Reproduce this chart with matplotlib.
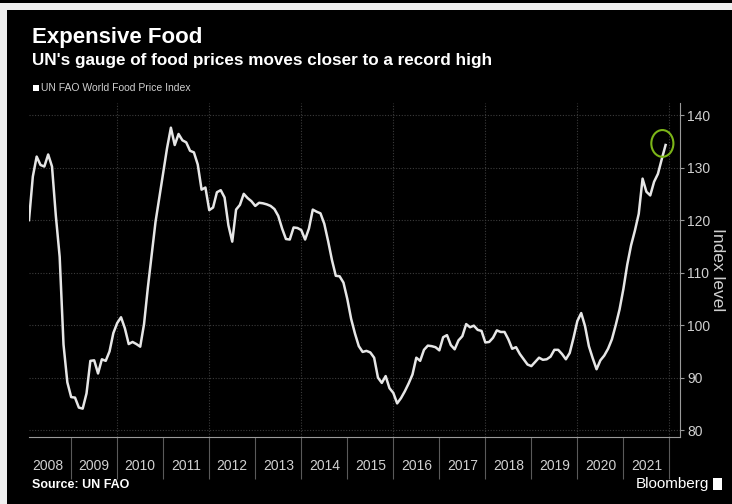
import numpy as np
import matplotlib
matplotlib.use('Agg')
import matplotlib.pyplot as plt
from matplotlib.patches import Rectangle, Ellipse

# UN FAO World Food Price Index, monthly, Jan 2008 - Nov 2021
idx_2008 = [120.0, 128.3, 132.1, 130.5, 130.2, 132.5, 130.2, 120.8, 113.0, 96.3, 89.1, 86.3]
idx_2009 = [86.2, 84.3, 84.1, 87.0, 93.2, 93.3, 90.8, 93.5, 93.2, 95.0, 98.5, 100.4]
idx_2010 = [101.5, 99.4, 96.4, 96.8, 96.4, 95.9, 100.2, 107.2, 113.5, 119.7, 124.4, 129.2]
idx_2011 = [133.7, 137.6, 134.3, 136.4, 135.2, 134.8, 133.2, 132.9, 130.6, 125.8, 126.2, 121.9]
idx_2012 = [122.4, 125.3, 125.7, 124.3, 119.0, 115.9, 122.0, 122.9, 125.0, 124.2, 123.6, 122.7]
idx_2013 = [123.3, 123.2, 123.0, 122.7, 122.1, 120.8, 118.4, 116.4, 116.3, 118.6, 118.5, 118.1]
idx_2014 = [116.3, 118.4, 122.0, 121.6, 121.3, 119.3, 116.0, 112.4, 109.4, 109.3, 108.1, 105.0]
idx_2015 = [101.2, 98.4, 96.0, 94.9, 95.1, 94.8, 93.8, 90.0, 89.0, 90.3, 88.0, 87.1]
idx_2016 = [85.1, 86.1, 87.4, 88.9, 90.6, 93.8, 93.2, 95.3, 96.1, 96.0, 95.8, 95.2]
idx_2017 = [97.7, 98.1, 96.2, 95.4, 97.1, 97.9, 100.2, 99.6, 99.9, 99.1, 98.9, 96.7]
idx_2018 = [96.8, 97.6, 99.0, 98.7, 98.7, 97.3, 95.5, 95.8, 94.5, 93.5, 92.5, 92.2]
idx_2019 = [93.0, 93.8, 93.4, 93.5, 94.0, 95.3, 95.3, 94.5, 93.5, 94.7, 97.6, 100.8]
idx_2020 = [102.3, 99.8, 96.0, 93.7, 91.6, 93.3, 94.2, 95.5, 97.3, 100.0, 103.0, 106.9]
idx_2021 = [111.5, 115.2, 118.0, 121.2, 127.9, 125.4, 124.7, 127.3, 128.8, 131.6, 134.3]

years = list(range(2008, 2022))
y_ticks = [80, 90, 100, 110, 120, 130, 140]

index = np.array(idx_2008 + idx_2009 + idx_2010 + idx_2011 + idx_2012 + idx_2013 + idx_2014
                 + idx_2015 + idx_2016 + idx_2017 + idx_2018 + idx_2019 + idx_2020 + idx_2021)
# decimal year at the end of each month
t = 2008 + (np.arange(len(index)) + 1) / 12.0

plt.rcParams['font.family'] = ['Liberation Sans', 'DejaVu Sans']
txt = '#d0d0d0'

fig = plt.figure(figsize=(7.32, 5.04), dpi=100, facecolor='black')
W, H = 732, 504

# light frame along the top and left edge
fig.patches.append(Rectangle((0, (H - 10) / H), 1, 7 / H, transform=fig.transFigure,
                             facecolor='#f0f0f0', edgecolor='none', zorder=0))
fig.patches.append(Rectangle((0, 0), 7 / W, (H - 3) / H, transform=fig.transFigure,
                             facecolor='#f0f0f0', edgecolor='none', zorder=0))

ax = fig.add_axes([29 / W, (H - 437) / H, 651 / W, 334 / H], facecolor='black')

ax.plot(t, index, color='#e6e6e6', lw=1.8, zorder=3)

# highlight the latest reading
ax.add_patch(Ellipse((t[-1] - 0.07, index[-1] + 0.3), 0.48, 5.1, fill=False,
                     edgecolor='#7cb518', lw=1.5, zorder=4))

ax.set_xlim(t[0], 2022.23)
ax.set_ylim(78.7, 142.3)

# dotted grid: every 10 points and every other year
for v in y_ticks:
    ax.axhline(v, color='#3c3c3c', lw=0.8, ls=(0, (1, 1.5)), zorder=1)
for yr in range(2010, 2023, 2):
    ax.axvline(yr, color='#3c3c3c', lw=0.8, ls=(0, (1, 1.5)), zorder=1)

for s in ['top', 'left']:
    ax.spines[s].set_visible(False)
ax.spines['right'].set_color('#9a9a9a')
ax.spines['bottom'].set_color('#9a9a9a')

ax.yaxis.tick_right()
ax.yaxis.set_label_position('right')
ax.set_yticks(y_ticks)
ax.set_yticklabels([str(v) for v in y_ticks])
ax.tick_params(axis='y', colors='#9a9a9a', labelcolor=txt, labelsize=10,
               length=3, width=0.8, pad=2)
ax.set_ylabel('Index level', rotation=270, color=txt, fontsize=12.5, labelpad=11)

# year separators as long ticks, year names centred between them
ax.set_xticks(range(2009, 2023))
ax.set_xticklabels([])
ax.set_xticks([y + 0.5 for y in years], minor=True)
ax.set_xticklabels([str(y) for y in years], minor=True)
ax.tick_params(axis='x', which='major', length=30, width=0.8, color='#5a5a5a')
ax.tick_params(axis='x', which='minor', length=0, pad=16, labelcolor=txt,
               labelsize=10)

fig.text(32 / W, 1 - 43 / H, 'Expensive Food', color='white', fontsize=16,
         fontweight='bold', va='baseline')
fig.text(32 / W, 1 - 65 / H, "UN's gauge of food prices moves closer to a record high",
         color='white', fontsize=12.3, fontweight='bold', va='baseline')
fig.patches.append(Rectangle((33 / W, 1 - 91 / H), 6 / W, 6 / H, transform=fig.transFigure,
                             facecolor='white', edgecolor='none'))
fig.text(41 / W, 1 - 88 / H, 'UN FAO World Food Price Index', color=txt, fontsize=7.5,
         va='center')

fig.text(32 / W, 1 - 485 / H, 'Source: UN FAO', color='white', fontsize=9,
         fontweight='bold', va='center')
fig.text(709 / W, 1 - 484 / H, 'Bloomberg', color='white', fontsize=11,
         va='center', ha='right')
fig.patches.append(Rectangle((713 / W, 1 - 490 / H), 9 / W, 12 / H, transform=fig.transFigure,
                             facecolor='white', edgecolor='none'))

fig.savefig('out.png', dpi=100, facecolor='black')
